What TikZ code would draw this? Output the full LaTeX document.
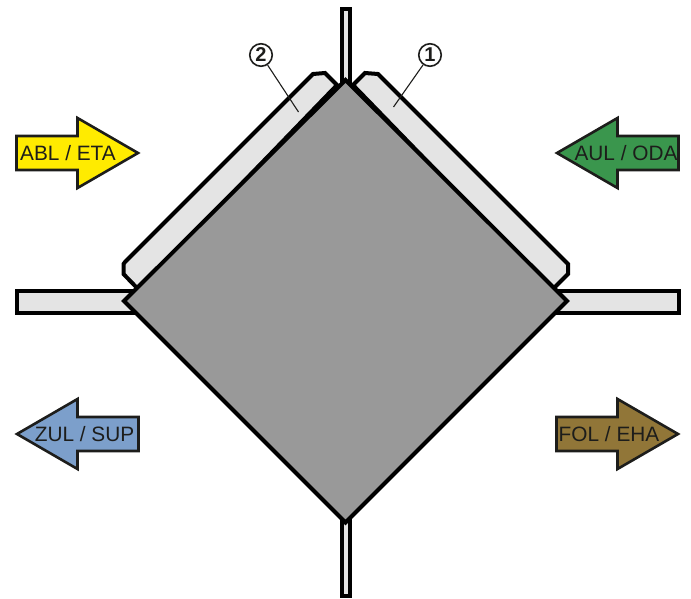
\documentclass[tikz,border=0pt]{standalone}
\usepackage{fontspec}
\setmainfont{Liberation Sans}
\definecolor{lightpart}{HTML}{E4E4E4}
\definecolor{core}{HTML}{999999}
\definecolor{etayellow}{HTML}{FFEB00}
\definecolor{odagreen}{HTML}{3A964D}
\definecolor{supblue}{HTML}{7C9FCB}
\definecolor{ehabrown}{HTML}{917638}
\definecolor{ink}{HTML}{1D1D1B}
\tikzset{
  part/.style={draw=black,line width=4pt,fill=lightpart,line join=miter},
  plate/.style={draw=black,line width=4pt,fill=lightpart,line join=miter},
  corepart/.style={draw=black,line width=4pt,fill=core,line join=miter},
  flow/.style={draw=ink,line width=2.6pt,line join=miter},
  flowlabel/.style={text=ink,font=\fontsize{20.8}{22}\selectfont,inner sep=0pt,anchor=base},
  callout/.style={circle,draw=ink,line width=1.6pt,minimum size=22.5pt,inner sep=0pt,text=ink,font=\bfseries\fontsize{20}{20}\selectfont},
  leader/.style={draw=ink,line width=1.1pt}
}
\begin{document}
\begin{tikzpicture}[x=1pt,y=-1pt]
\useasboundingbox (0,0) rectangle (691,599);
% ducts
\draw[part] (342.3,9) rectangle (349.7,85);
\draw[part] (342.3,520) rectangle (349.7,596);
\draw[part] (17,290.5) rectangle (140,312.5);
\draw[part] (550,290.5) rectangle (678.5,312.5);
% plates
\draw[plate] (353,85) -- (365,73) -- (378,74) -- (566,262) -- (568,264) -- (568,274) -- (552,290) -- cycle;
\draw[plate] (337,85) -- (325,73) -- (313,74) -- (125,262) -- (123.5,264) -- (123.5,274) -- (139,290) -- cycle;
% core
\draw[corepart] (345.5,80) -- (567,301) -- (345.5,522.5) -- (124,301) -- cycle;
% flow arrows
\draw[flow,fill=etayellow] (16.5,136) -- (77.5,136) -- (77.5,118) -- (138,153) -- (77.5,188) -- (77.5,170) -- (16.5,170) -- cycle;
\draw[flow,fill=odagreen] (678.5,136) -- (617.5,136) -- (617.5,118) -- (557,153) -- (617.5,188) -- (617.5,170) -- (678.5,170) -- cycle;
\draw[flow,fill=supblue] (138.5,417) -- (77.5,417) -- (77.5,399) -- (17,434) -- (77.5,469) -- (77.5,451) -- (138.5,451) -- cycle;
\draw[flow,fill=ehabrown] (556.5,417) -- (617.5,417) -- (617.5,399) -- (678,434) -- (617.5,469) -- (617.5,451) -- (556.5,451) -- cycle;
% flow labels
\node[flowlabel] (eta) at (68,160.5) {ABL / ETA};
\node[flowlabel] (oda) at (626,160.5) {AUL / ODA};
\node[flowlabel] (sup) at (84.5,441.5) {ZUL / SUP};
\node[flowlabel] (eha) at (609,441.5) {FOL / EHA};
% callouts
\node[callout] (c2) at (261,55) {2};
\node[callout] (c1) at (430,55) {1};
\coordinate (p2) at (298.5,112);
\coordinate (p1) at (393.5,107);
\draw[leader] (c2) -- (p2);
\draw[leader] (c1) -- (p1);
\end{tikzpicture}
\end{document}
